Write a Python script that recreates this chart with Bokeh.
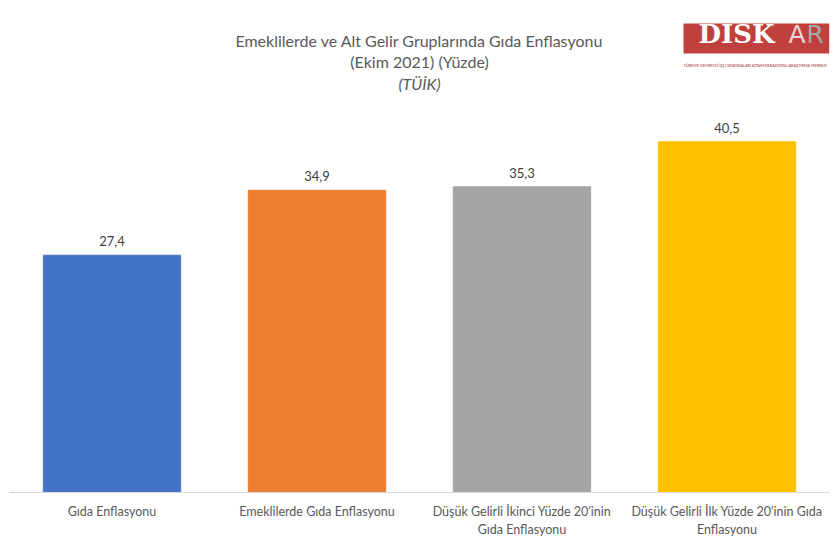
from bokeh.plotting import figure
from bokeh.models import ColumnDataSource, Range1d, Label, BoxAnnotation
from bokeh.core.properties import value
from bokeh.embed import file_html
from bokeh.resources import INLINE

categories = ["Gıda Enflasyonu", "Emeklilerde Gıda Enflasyonu",
              "Düşük Gelirli İkinci Yüzde 20'inin\nGıda Enflasyonu",
              "Düşük Gelirli İlk Yüzde 20'inin Gıda\nEnflasyonu"]
values = [27.4, 34.9, 35.3, 40.5]
labels = ["27,4", "34,9", "35,3", "40,5"]
colors = ["#4472c4", "#ed7d31", "#a5a5a5", "#ffc000"]

title_lines = ["Emeklilerde ve Alt Gelir Gruplarında Gıda Enflasyonu",
               "(Ekim 2021) (Yüzde)", "(TÜİK)"]

FONT = "Lato"

src = ColumnDataSource(dict(cat=categories, val=values, lab=labels, col=colors))

p = figure(x_range=categories, y_range=Range1d(0, 55.9), width=832, height=552,
           output_backend="svg", toolbar_location=None,
           min_border_left=9, min_border_right=3, min_border_top=8, min_border_bottom=60)
p.outline_line_color = None
p.background_fill_color = "white"
p.border_fill_color = "white"

p.vbar(x="cat", top="val", width=0.67, color="col", source=src)
p.text(x="cat", y="val", text="lab", source=src, text_align="center",
       text_baseline="bottom", y_offset=-9, text_font=value(FONT),
       text_font_size="13px", text_color="#404040")

p.yaxis.visible = False
p.xgrid.visible = False
p.ygrid.visible = False
p.xaxis.axis_line_color = "#d9d9d9"
p.xaxis.major_tick_line_color = None
p.xaxis.minor_tick_line_color = None
p.xaxis.major_label_text_font = FONT
p.xaxis.major_label_text_font_size = "12.5px"
p.xaxis.major_label_text_color = "#595959"
p.xaxis.major_label_standoff = 5
p.x_range.range_padding = 0

# titles (screen units relative to the plot frame, y upward)
for txt, y, style in zip(title_lines, [452, 431, 409], ["normal", "normal", "italic"]):
    p.add_layout(Label(x=410, y=y, x_units="screen", y_units="screen", text=txt,
                       text_align="center", text_baseline="middle",
                       text_font=FONT, text_font_size="16px", text_font_style=style,
                       text_color="#595959"))

# logo
p.add_layout(BoxAnnotation(left=674, right=820, top=469, bottom=439,
                           left_units="screen", right_units="screen",
                           top_units="screen", bottom_units="screen",
                           fill_color="#c0403d", fill_alpha=1, line_color=None))
p.add_layout(Label(x=689, y=444, x_units="screen", y_units="screen", text="DİSK",
                   text_font="DejaVu Serif", text_font_style="bold", text_font_size="26px",
                   text_color="white"))
p.add_layout(Label(x=779, y=444, x_units="screen", y_units="screen", text="A",
                   text_font="DejaVu Sans", text_font_size="25px", text_color="#f2d6d6"))
p.add_layout(Label(x=797, y=444, x_units="screen", y_units="screen", text="R",
                   text_font="DejaVu Sans", text_font_size="25px", text_color="#a8a8a8"))
p.add_layout(Label(x=674, y=425, x_units="screen", y_units="screen",
                   text="TÜRKİYE DEVRİMCİ İŞÇİ SENDİKALARI KONFEDERASYONU ARAŞTIRMA MERKEZİ",
                   text_font=FONT, text_font_size="3.8px", text_color="#a03030"))

open("out.html", "w").write(file_html(p, INLINE))
